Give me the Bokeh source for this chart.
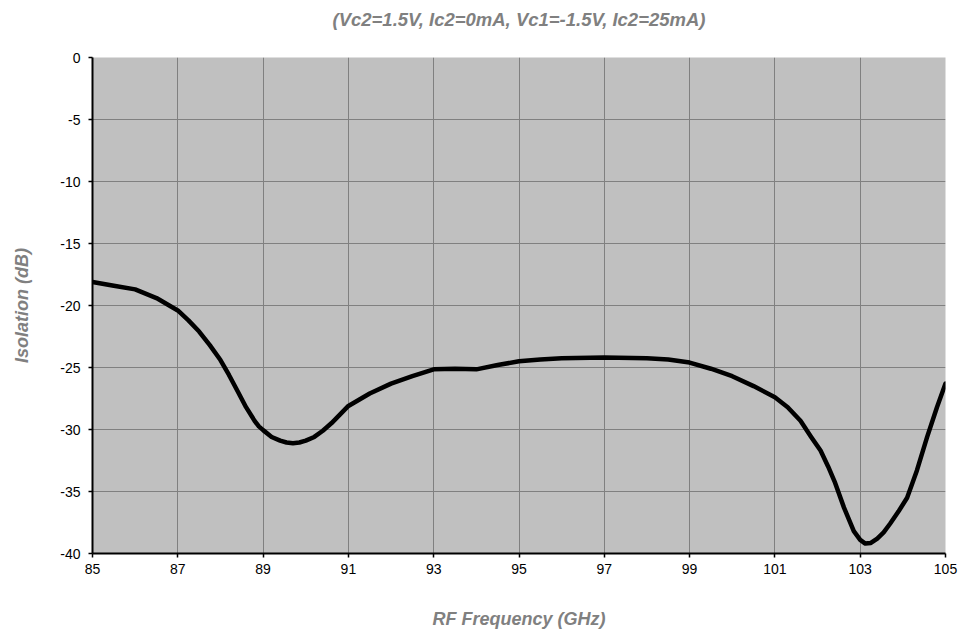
from bokeh.plotting import figure
from bokeh.models import FixedTicker, Range1d, LinearAxis
from bokeh.embed import file_html
from bokeh.resources import INLINE

title_text = "(Vc2=1.5V, Ic2=0mA, Vc1=-1.5V, Ic2=25mA)"
x_label = "RF Frequency (GHz)"
y_label = "Isolation (dB)"

freq_ghz = [85.0, 85.5, 86.0, 86.5, 87.0, 87.25, 87.5, 87.75, 88.0, 88.2, 88.4, 88.6,
            88.8, 88.9, 89.0, 89.2, 89.4, 89.55, 89.7, 89.85, 90.0, 90.2, 90.4, 90.6,
            90.8, 91.0, 91.25, 91.5, 92.0, 92.5, 93.0, 93.5, 94.0, 94.5, 95.0,
            95.5, 96.0, 97.0, 98.0, 98.5, 99.0, 99.5, 100.0, 100.5, 101.0, 101.3,
            101.6, 101.85, 102.07, 102.25, 102.4, 102.62, 102.85, 103.0, 103.12, 103.25,
            103.4, 103.55, 103.7, 103.9, 104.1, 104.33, 104.57, 104.8, 105.0]
isolation_db = [-18.1, -18.4, -18.7, -19.4, -20.4, -21.2, -22.1, -23.2, -24.4, -25.6, -26.9, -28.2,
                -29.3, -29.75, -30.05, -30.6, -30.9, -31.05, -31.1, -31.05, -30.9, -30.6, -30.1, -29.5,
                -28.8, -28.1, -27.6, -27.1, -26.3, -25.7, -25.15, -25.1, -25.15, -24.8, -24.5,
                -24.35, -24.25, -24.2, -24.25, -24.35, -24.6, -25.1, -25.7, -26.5, -27.4, -28.2,
                -29.3, -30.6, -31.7, -33.0, -34.2, -36.3, -38.2, -38.9, -39.2, -39.15,
                -38.8, -38.3, -37.6, -36.6, -35.5, -33.3, -30.6, -28.2, -26.3]

x_ticks = [85, 87, 89, 91, 93, 95, 97, 99, 101, 103, 105]
y_ticks = [-40, -35, -30, -25, -20, -15, -10, -5, 0]
y_tick_labels = {t: str(t) for t in y_ticks}

FONT = "Liberation Sans"

p = figure(width=958, height=632, output_backend="svg", toolbar_location=None,
           x_range=Range1d(85, 105), y_range=Range1d(-40, 0),
           min_border_left=92, min_border_right=13, min_border_top=57, min_border_bottom=79)

p.background_fill_color = "#C0C0C0"
p.border_fill_color = "white"
p.outline_line_color = None

# title drawn as the label of a bare axis above the plot
title_axis = LinearAxis(ticker=FixedTicker(ticks=[]), axis_label=title_text,
                        axis_line_color=None, major_tick_line_color=None,
                        minor_tick_line_color=None, major_tick_out=0, major_tick_in=0,
                        major_label_standoff=0, axis_label_standoff=28,
                        axis_label_text_font=FONT, axis_label_text_font_size="18.5px",
                        axis_label_text_font_style="bold italic", axis_label_text_color="#808080")
p.add_layout(title_axis, "above")

p.line(freq_ghz, isolation_db, line_color="black", line_width=4.5, line_join="round", line_cap="round")

for g in (p.xgrid, p.ygrid):
    g.grid_line_color = "#808080"
    g.grid_line_width = 1
p.xgrid.ticker = FixedTicker(ticks=x_ticks)
p.ygrid.ticker = FixedTicker(ticks=y_ticks)

xax = p.below[0]
yax = p.left[0]
xax.ticker = FixedTicker(ticks=x_ticks)
yax.ticker = FixedTicker(ticks=y_ticks)
yax.major_label_overrides = y_tick_labels

for ax in (xax, yax):
    ax.axis_line_color = "black"
    ax.axis_line_width = 2
    ax.major_tick_line_color = "black"
    ax.major_tick_line_width = 1.5
    ax.major_tick_in = 0
    ax.major_tick_out = 4
    ax.minor_tick_line_color = None
    ax.major_label_text_font = FONT
    ax.major_label_text_font_size = "14px"
    ax.major_label_text_color = "black"
    ax.axis_label_text_font = FONT
    ax.axis_label_text_font_size = "18px"
    ax.axis_label_text_font_style = "bold italic"
    ax.axis_label_text_color = "#808080"

xax.axis_label = x_label
yax.axis_label = y_label
xax.major_label_standoff = 6
yax.major_label_standoff = 8
xax.axis_label_standoff = 32
yax.axis_label_standoff = 25

open("out.html", "w").write(file_html(p, INLINE))
